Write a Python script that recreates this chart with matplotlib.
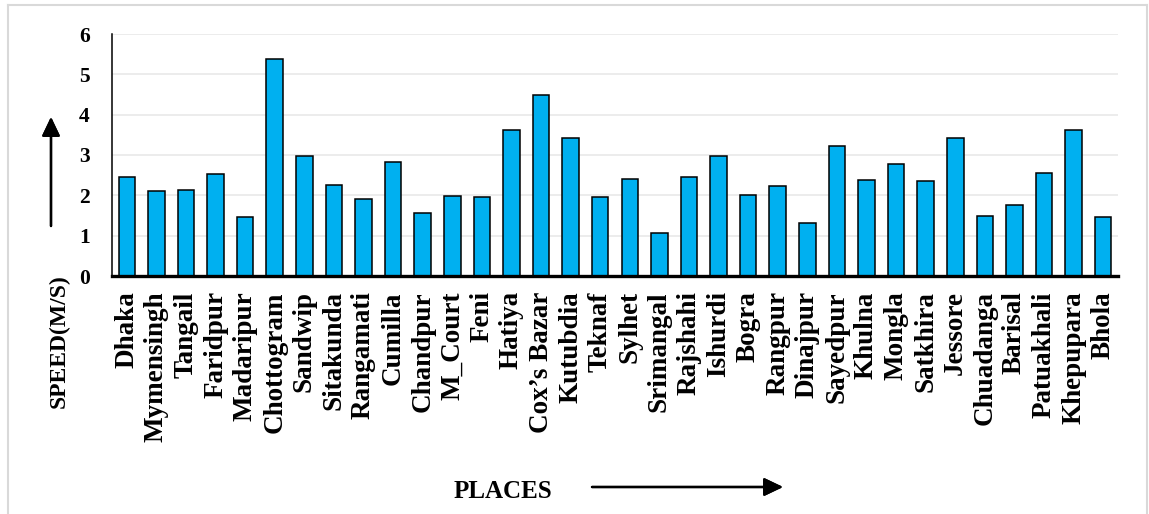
import matplotlib
matplotlib.use("Agg")
import matplotlib.pyplot as plt
from matplotlib.lines import Line2D

# average wind speed per station
places = ["Dhaka", "Mymensingh", "Tangail", "Faridpur", "Madaripur", "Chottogram",
          "Sandwip", "Sitakunda", "Rangamati", "Cumilla", "Chandpur", "M_Court",
          "Feni", "Hatiya", "Cox\u2019s Bazar", "Kutubdia", "Teknaf", "Sylhet",
          "Srimangal", "Rajshahi", "Ishurdi", "Bogra", "Rangpur", "Dinajpur",
          "Sayedpur", "Khulna", "Mongla", "Satkhira", "Jessore", "Chuadanga",
          "Barisal", "Patuakhali", "Khepupara", "Bhola"]
speed = [2.45, 2.11, 2.13, 2.52, 1.46, 5.37,
         2.98, 2.26, 1.90, 2.82, 1.56, 1.98,
         1.95, 3.63, 4.48, 3.43, 1.96, 2.41,
         1.07, 2.46, 2.98, 2.02, 2.22, 1.32,
         3.22, 2.38, 2.77, 2.36, 3.42, 1.49,
         1.77, 2.56, 3.62, 1.46]
yticks = [0, 1, 2, 3, 4, 5, 6]

plt.rcParams["font.family"] = ["Liberation Serif", "DejaVu Serif"]
plt.rcParams["font.weight"] = "bold"

W, H = 1149, 514
fig = plt.figure(figsize=(W / 100, H / 100), dpi=100)
ax = fig.add_axes([112 / W, 1 - 276 / H, (1118 - 112) / W, (276 - 34) / H])

x = list(range(len(places)))
ax.bar(x, speed, width=0.56, color="#00B0F0", edgecolor="black", linewidth=1.1, zorder=3)

ax.set_xlim(-0.5, len(places) - 0.5)
ax.set_ylim(0, 6)
ax.set_yticks(yticks)
ax.set_yticklabels([str(t) for t in yticks], fontsize=15.5, fontweight="bold")
ax.set_xticks(x)
ax.set_xticklabels(places, rotation=90, fontsize=19.5, fontweight="bold")
ax.tick_params(axis="y", length=0, pad=16)
ax.tick_params(axis="x", length=0, pad=11)
ax.yaxis.grid(True, color="#EBEBEB", linewidth=1.3, zorder=0)

for s in ["top", "right"]:
    ax.spines[s].set_visible(False)
ax.spines["left"].set_linewidth(1.1)
ax.spines["bottom"].set_linewidth(2.4)
ax.spines["bottom"].set_zorder(4)

fig.text(59 / W, 1 - 341 / H, "SPEED(M/S)", fontsize=17, fontweight="bold",
         rotation=90, ha="center", va="center")
fig.text(503 / W, 1 - 491 / H, "PLACES", fontsize=18, fontweight="bold",
         ha="center", va="center")

# direction arrows next to the axis titles
arrow = dict(arrowstyle="-|>,head_length=1.15,head_width=0.55", lw=1.7,
             color="black", shrinkA=0, shrinkB=0, mutation_scale=10)
fig.add_artist(plt.annotate("", xy=(51, H - 117), xytext=(51, H - 226),
                            xycoords="figure pixels", textcoords="figure pixels",
                            arrowprops=arrow))
fig.add_artist(plt.annotate("", xy=(783, H - 487), xytext=(592, H - 487),
                            xycoords="figure pixels", textcoords="figure pixels",
                            arrowprops=arrow))

# light frame around the chart area
frame = dict(color="#D9D9D9", linewidth=1.5, transform=fig.transFigure)
fig.add_artist(Line2D([8 / W, 8 / W], [0, 1 - 5 / H], **frame))
fig.add_artist(Line2D([1147 / W, 1147 / W], [0, 1 - 5 / H], **frame))
fig.add_artist(Line2D([8 / W, 1147 / W], [1 - 5 / H, 1 - 5 / H], **frame))

fig.savefig("out.png", dpi=100)
